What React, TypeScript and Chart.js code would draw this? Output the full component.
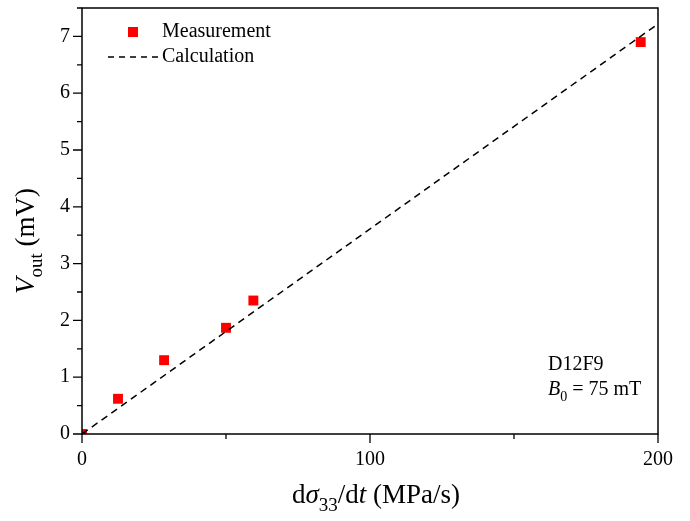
import React, { useEffect, useRef } from "react";
import { Chart, registerables } from "chart.js";

Chart.register(...registerables);

const measX = [0, 12.5, 28.5, 50, 59.5, 194];
const measY = [0, 0.62, 1.3, 1.87, 2.35, 6.9];
const calcX = [0, 200];
const calcY = [0, 7.22];
const xMajorTicks = [0, 100, 200];
const xMinorTicks = [50, 150];
const yMajorTicks = [0, 1, 2, 3, 4, 5, 6, 7];
const yMinorTicks = [0.5, 1.5, 2.5, 3.5, 4.5, 5.5, 6.5, 7.5];
const legendLabels = ["Measurement", "Calculation"];
const sampleName = "D12F9";

const FONT = "'Liberation Serif', 'Times New Roman', serif";

type Part = { t: string; i?: boolean; sub?: boolean };

function partFont(p: Part, size: number) {
  const s = p.sub ? Math.round(size * 0.7) : size;
  return `${p.i ? "italic " : ""}${s}px ${FONT}`;
}

function measure(ctx: CanvasRenderingContext2D, parts: Part[], size: number) {
  let w = 0;
  for (const p of parts) {
    ctx.font = partFont(p, size);
    w += ctx.measureText(p.t).width;
  }
  return w;
}

function drawRich(
  ctx: CanvasRenderingContext2D,
  parts: Part[],
  size: number,
  x: number,
  y: number,
  align: "left" | "center"
) {
  const total = measure(ctx, parts, size);
  let cx = align === "center" ? x - total / 2 : x;
  ctx.textBaseline = "alphabetic";
  ctx.textAlign = "left";
  for (const p of parts) {
    ctx.font = partFont(p, size);
    const dy = p.sub ? size * 0.3 : 0;
    ctx.fillText(p.t, cx, y + dy);
    cx += ctx.measureText(p.t).width;
  }
}

const decorPlugin = {
  id: "decor",
  afterDraw(chart: any) {
    const ctx: CanvasRenderingContext2D = chart.ctx;
    const { left, right, top, bottom } = chart.chartArea;
    const xs = chart.scales.x;
    const ys = chart.scales.y;
    ctx.save();
    ctx.strokeStyle = "#000";
    ctx.fillStyle = "#000";
    ctx.lineWidth = 1.5;
    ctx.setLineDash([]);
    ctx.strokeRect(left, top, right - left, bottom - top);

    // ticks
    ctx.lineWidth = 1.3;
    ctx.beginPath();
    for (const v of yMajorTicks) {
      const py = ys.getPixelForValue(v);
      ctx.moveTo(left - 9, py);
      ctx.lineTo(left, py);
    }
    for (const v of yMinorTicks) {
      const py = ys.getPixelForValue(v);
      ctx.moveTo(left - 5, py);
      ctx.lineTo(left, py);
    }
    for (const v of xMajorTicks) {
      const px = xs.getPixelForValue(v);
      ctx.moveTo(px, bottom);
      ctx.lineTo(px, bottom + 9);
    }
    for (const v of xMinorTicks) {
      const px = xs.getPixelForValue(v);
      ctx.moveTo(px, bottom);
      ctx.lineTo(px, bottom + 5);
    }
    ctx.stroke();

    // axis titles
    ctx.fillStyle = "#000";
    drawRich(
      ctx,
      [
        { t: "d" },
        { t: "σ", i: true },
        { t: "33", sub: true },
        { t: "/d" },
        { t: "t", i: true },
        { t: " (MPa/s)" },
      ],
      27,
      376,
      503,
      "center"
    );
    ctx.save();
    ctx.translate(34, 241);
    ctx.rotate(-Math.PI / 2);
    drawRich(
      ctx,
      [{ t: "V", i: true }, { t: "out", sub: true }, { t: " (mV)" }],
      27,
      0,
      0,
      "center"
    );
    ctx.restore();

    // legend
    ctx.fillStyle = "#ff0000";
    ctx.fillRect(128, 27, 10, 10);
    ctx.strokeStyle = "#000";
    ctx.lineWidth = 1.5;
    ctx.setLineDash([6, 5]);
    ctx.beginPath();
    ctx.moveTo(108, 57);
    ctx.lineTo(158, 57);
    ctx.stroke();
    ctx.setLineDash([]);
    ctx.fillStyle = "#000";
    ctx.font = `20px ${FONT}`;
    ctx.textAlign = "left";
    ctx.textBaseline = "middle";
    ctx.fillText(legendLabels[0], 162, 32);
    ctx.fillText(legendLabels[1], 162, 57);

    // annotation
    ctx.fillText(sampleName, 548, 365);
    drawRich(
      ctx,
      [{ t: "B", i: true }, { t: "0", sub: true }, { t: " = 75 mT" }],
      20,
      548,
      395,
      "left"
    );
    ctx.restore();
  },
};

export default function App() {
  const ref = useRef<HTMLCanvasElement | null>(null);
  useEffect(() => {
    if (!ref.current) return;
    Chart.defaults.font.family = FONT;
    const chart = new Chart(ref.current, {
      type: "scatter",
      data: {
        datasets: [
          {
            label: legendLabels[1],
            type: "line",
            data: calcX.map((x, i) => ({ x, y: calcY[i] })),
            borderColor: "#000",
            borderWidth: 1.5,
            borderDash: [7, 5],
            pointRadius: 0,
            fill: false,
          } as any,
          {
            label: legendLabels[0],
            data: measX.map((x, i) => ({ x, y: measY[i] })),
            backgroundColor: "#ff0000",
            borderWidth: 0,
            pointStyle: "rect",
            pointRadius: 7,
          },
        ],
      },
      options: {
        animation: false,
        responsive: true,
        maintainAspectRatio: false,
        layout: { padding: { top: 8, right: 32, left: 0, bottom: 0 } },
        plugins: { legend: { display: false }, tooltip: { enabled: false } },
        scales: {
          x: {
            type: "linear",
            min: 0,
            max: 200,
            grid: { display: false },
            border: { display: false },
            ticks: {
              stepSize: 100,
              color: "#000",
              font: { size: 20 },
              padding: 6,
              maxRotation: 0,
            },
            afterFit: (s: any) => {
              s.height = 87;
            },
          },
          y: {
            min: 0,
            max: 7.5,
            grid: { display: false },
            border: { display: false },
            ticks: {
              stepSize: 1,
              color: "#000",
              font: { size: 20 },
              padding: 4,
              autoSkip: false,
              callback: (v: any) => (Number.isInteger(v) ? String(v) : ""),
            },
            afterFit: (s: any) => {
              s.width = 82;
              s.paddingTop = 0;
              s.paddingBottom = 0;
            },
          },
        },
      },
      plugins: [decorPlugin],
    });
    return () => chart.destroy();
  }, []);
  return (
    <div style={{ position: "fixed", left: 0, top: 0, width: 690, height: 521, background: "#fff" }}>
      <canvas ref={ref} />
    </div>
  );
}
